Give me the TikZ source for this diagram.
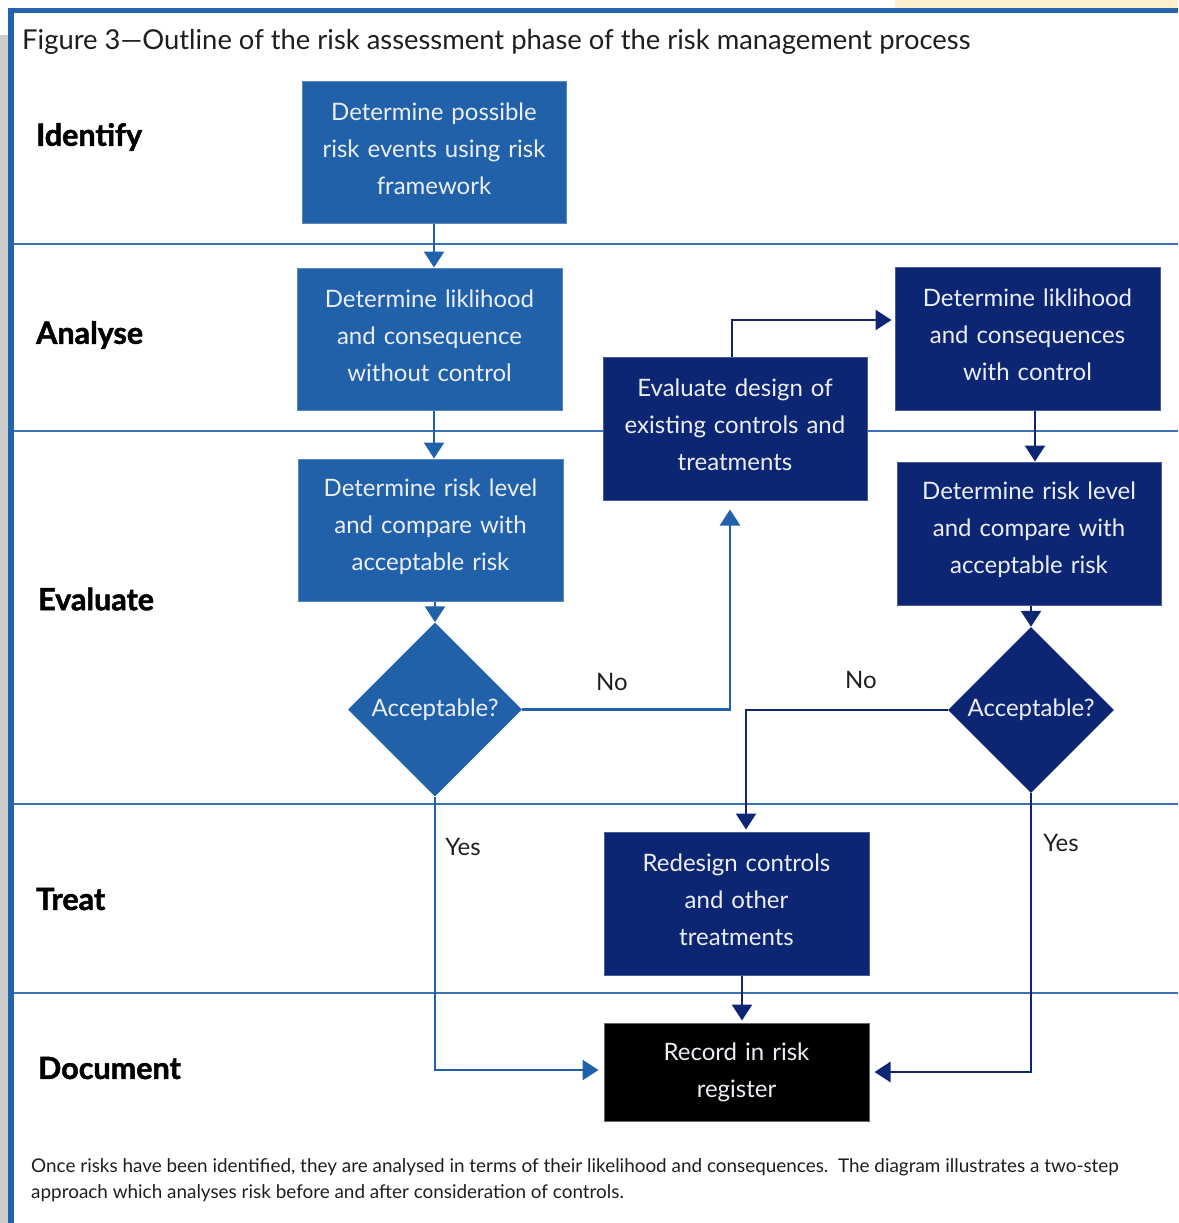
\documentclass[tikz,border=0pt]{standalone}
\usepackage{fontspec}
\setmainfont{Lato}
\newfontfamily\lanefont{Lato}[BoldFeatures={FakeBold=1.6}]
\usetikzlibrary{arrows.meta,shapes.geometric}

\definecolor{lightblue}{RGB}{32,97,169}
\definecolor{navy}{RGB}{13,38,115}
\definecolor{frameblue}{RGB}{37,99,173}
\definecolor{laneblue}{RGB}{60,113,184}
\definecolor{paleyellow}{RGB}{253,240,207}
\definecolor{stripgrey}{RGB}{204,204,204}
\definecolor{boxtext}{RGB}{236,238,246}
\definecolor{inktext}{RGB}{30,30,30}

% extra space under the box text lifts it slightly above the box centre
\newcommand\boxtail{\par\vspace*{7pt}}

\begin{document}
\begin{tikzpicture}[x=1pt,y=-1pt,
  box/.style={rectangle, minimum width=265pt, minimum height=143pt,
    text width=250pt, align=center, inner sep=0pt, text=boxtext,
    font=\fontsize{24}{37}\selectfont, line width=1pt},
  raised/.style={execute at end node=\boxtail},
  lbox/.style={box, raised, fill=lightblue, draw=lightblue!75!white},
  nbox/.style={box, raised, fill=navy, draw=navy!75!white},
  decision/.style={diamond, minimum width=#1, minimum height=#1, inner sep=0pt,
    label={[text=boxtext, font=\fontsize{24}{28}\selectfont]center:Acceptable?}},
  lane/.style={font=\lanefont\fontsize{30.5}{36}\selectfont\bfseries, anchor=west, inner sep=0pt},
  answer/.style={font=\fontsize{24}{28}\selectfont, text=inktext},
  lflow/.style={draw=lightblue, line width=2.6pt, -{Triangle[width=20pt,length=16pt]}},
  nflow/.style={draw=navy, line width=2.6pt, -{Triangle[width=20pt,length=16pt]}},
  divider/.style={draw=laneblue, line width=1.5pt}
]
\useasboundingbox (0,0) rectangle (1178,1223);

% page frame
\fill[paleyellow] (895,0) rectangle (1178,8);
\fill[stripgrey] (0,35) rectangle (8,1223);
\fill[frameblue] (8,8) rectangle (1178,13);
\fill[frameblue] (8,8) rectangle (14,1223);

% swim-lane dividers
\foreach \yy in {244,431,804,993}
  \draw[divider] (14,\yy) -- (1178,\yy);

% title
\node[anchor=west, font=\fontsize{27.4}{32}\selectfont, text=inktext, inner sep=0pt]
  (title) at (22,42) {Figure 3---Outline of the risk assessment phase of the risk management process};

% lane names
\node[lane] (lidentify) at (36,137) {Identify};
\node[lane] (lanalyse)  at (36,335) {Analyse};
\node[lane] (levaluate) at (38,599) {Evaluate};
\node[lane] (ltreat)    at (36,899) {Treat};
\node[lane] (ldocument) at (38,1068) {Document};

% process steps before controls
\node[lbox, minimum width=264pt, minimum height=142pt] (b1) at (434,152)
  {Determine possible\\risk events using risk\\framework};
\node[lbox, minimum height=142pt] (b2) at (429.5,339)
  {Determine liklihood\\and consequence\\without control};
\node[lbox, minimum height=142pt] (b3) at (430.5,530)
  {Determine risk level\\and compare with\\acceptable risk};
\node[decision=174pt, fill=lightblue] (d1) at (435,709.5) {};

% process steps after controls
\node[nbox, minimum width=264pt] (b5) at (735,428.5)
  {Evaluate design of\\existing controls and\\treatments};
\node[nbox] (b6) at (1027.5,338.5)
  {Determine liklihood\\and consequences\\with control};
\node[nbox, minimum width=264pt] (b7) at (1029,533.5)
  {Determine risk level\\and compare with\\acceptable risk};
\node[decision=166pt, fill=navy] (d2) at (1031,710) {};
\node[nbox] (b9) at (736.5,903.5)
  {Redesign controls\\and other\\treatments};
\node[box, fill=black, draw=black!60!white, minimum height=98pt] (rec) at (736.5,1072)
  {Record in risk\\register};

% connectors, first pass
\draw[lflow] (b1.south) -- (b1.south |- b2.north);
\draw[lflow] (b2.south -| b1.south) -- (b1.south |- b3.north);
\draw[lflow] (b3.south -| d1.north) -- (d1.north);
\draw[lflow, shorten >=9pt] (d1.east) -| (730,0 |- b5.south);
\draw[lflow, shorten >=5pt] (d1.south) |- (rec.west |- 0,1070);

% connectors, second pass
\draw[nflow, shorten >=3pt] (732,0 |- b5.north) |- (b6.west |- 0,320);
\draw[nflow] (1035,0 |- b6.south) -- (1035,0 |- b7.north);
\draw[nflow] (b7.south -| d2.north) -- (d2.north);
\draw[nflow, shorten >=2pt] (d2.west) -| (746,0 |- b9.north);
\draw[nflow, shorten >=5pt] (d2.south) |- (rec.east |- 0,1072);
\draw[nflow, shorten >=2pt] (742,0 |- b9.south) -- (742,0 |- rec.north);

% branch labels
\node[answer] (no1)  at (612,682) {No};
\node[answer] (yes1) at (463,847) {Yes};
\node[answer] (no2)  at (861,680) {No};
\node[answer] (yes2) at (1061,843) {Yes};

% caption
\node[anchor=north west, align=left, inner sep=0pt, text=inktext,
  font=\fontsize{18.9}{26}\selectfont] (caption) at (31,1158)
  {Once risks have been identified, they are analysed in terms of their likelihood and consequences.\ \ The diagram illustrates a two-step\\
   approach which analyses risk before and after consideration of controls.};
\end{tikzpicture}
\end{document}
